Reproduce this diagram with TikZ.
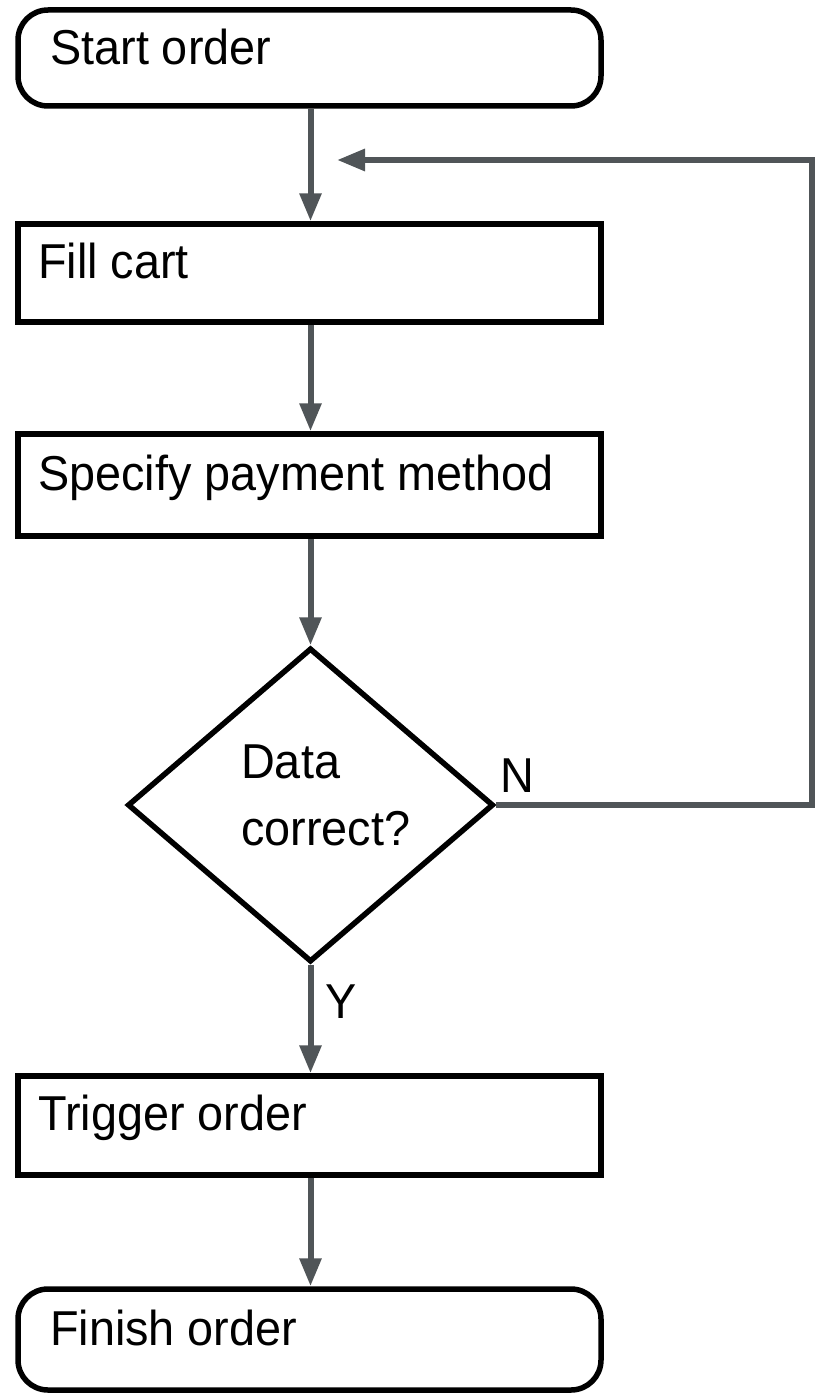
\documentclass[tikz,border=0pt]{standalone}
\usepackage{fontspec}
\setmainfont{Liberation Sans}[FakeStretch=0.955]
\usetikzlibrary{arrows.meta,shapes.geometric}
\definecolor{flowgray}{RGB}{80,85,88}
\tikzset{
  stepbox/.style={draw=black, line width=5.5pt, rectangle, minimum width=583pt, inner sep=0pt},
  termbox/.style={stepbox, rounded corners=30pt},
  decbox/.style={draw=black, line width=5.5pt, diamond, inner sep=0pt, minimum width=366pt, minimum height=314pt},
  lbl/.style={anchor=base west, inner sep=0pt, font=\fontsize{49pt}{58pt}\selectfont},
  flow/.style={draw=flowgray, line width=6pt, -{Triangle[width=21pt,length=28pt]}},
}
\begin{document}
\begin{tikzpicture}[x=1pt,y=-1pt]
\useasboundingbox (0,0) rectangle (821,1394);

% process boxes
\node[termbox, minimum height=96pt]  (start)   at (309.5,58)    {};
\node[stepbox, minimum height=98pt]  (fill)    at (309.5,273)   {};
\node[stepbox, minimum height=102pt] (specify) at (309.5,485)   {};
\node[decbox]                        (check)   at (310.5,805)   {};
\node[stepbox, minimum height=99pt]  (trigger) at (309.5,1125.5){};
\node[termbox, minimum height=101pt] (finish)  at (309.5,1339.5){};

% box texts
\node[lbl] (tstart)   at (50,65)    {Start order};
\node[lbl] (tfill)    at (38,278)   {Fill cart};
\node[lbl] (tspecify) at (38,490)   {Specify payment method};
\node[lbl] (tcheck1)  at (241,778)  {Data};
\node[lbl] (tcheck2)  at (241,845)  {correct?};
\node[lbl] (ttrigger) at (38,1130)  {Trigger order};
\node[lbl] (tfinish)  at (50,1345)  {Finish order};

% branch labels
\node[lbl] (ylab) at (325,1018) {Y};
\node[lbl] (nlab) at (500,792)  {N};

% main flow, all on the vertical axis through the decision
\draw[flow] (start.south -| check.north)   -- (fill.north -| check.north);
\draw[flow] (fill.south -| check.north)    -- (specify.north -| check.north);
\draw[flow] (specify.south -| check.north) -- (check.north);
\draw[flow] (check.south)                  -- (trigger.north -| check.north);
\draw[flow] (trigger.south -| check.north) -- (finish.north -| check.north);

% loop back on N
\coordinate (loopend) at (337,160);
\draw[flow] (check.east) -- (812,805) |- (loopend);
\end{tikzpicture}
\end{document}
